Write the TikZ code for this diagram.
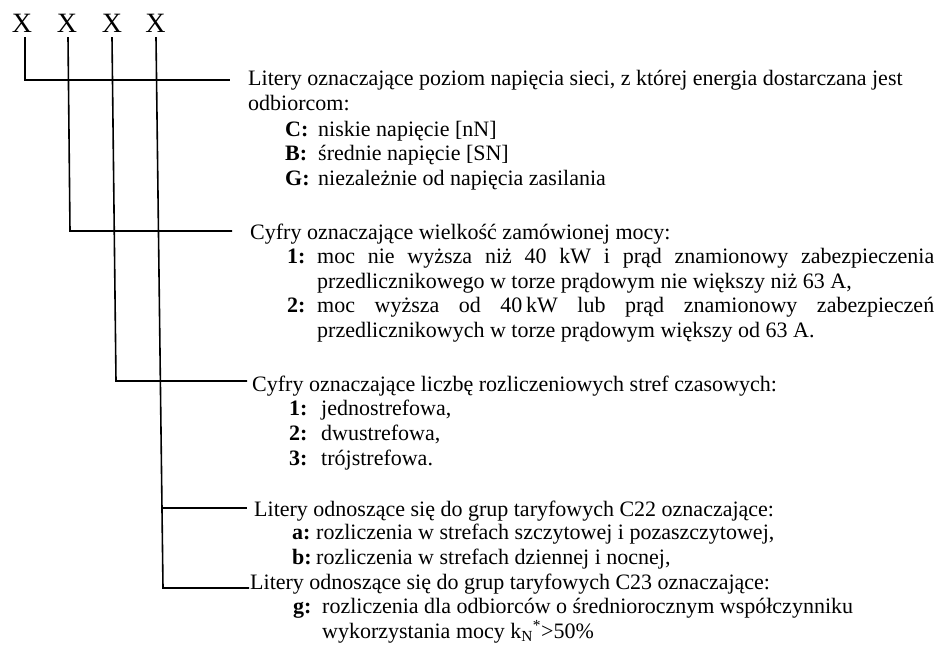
\documentclass[tikz,border=0pt]{standalone}
\usepackage{fontspec}
\setmainfont{Liberation Serif}
\begin{document}
\begin{tikzpicture}[x=1pt,y=-1pt,
  txt/.style={anchor=base west,inner sep=0pt,font=\fontsize{22}{26}\selectfont},
  xl/.style={anchor=base,inner sep=0pt,font=\fontsize{28}{30}\selectfont},
  conn/.style={line width=1.6pt,line join=miter,line cap=butt}]
\useasboundingbox (0,0) rectangle (940,648);
\newcommand{\lab}[2]{\makebox[#1][l]{\textbf{#2}}}
% the code letters
\node[xl] (x1) at (22,32) {X};
\node[xl] (x2) at (67,32) {X};
\node[xl] (x3) at (112,32) {X};
\node[xl] (x4) at (155.5,32) {X};
% bend points and free ends
\coordinate (b1) at (25,80);   \coordinate (e1) at (230,80);
\coordinate (b2) at (70,231);  \coordinate (e2) at (232,231);
\coordinate (b3) at (116,381); \coordinate (e3) at (247,381);
\coordinate (j4) at (162,508); \coordinate (e4) at (247,508);
\coordinate (b4) at (163,588); \coordinate (e5) at (249,588);
% connectors
\draw[conn] (x1.south) ++(3,5) -- (b1) -- (e1);
\draw[conn] (x2.south) ++(1,5) -- (b2) -- (e2);
\draw[conn] (x3.south) ++(0,5) -- (b3) -- (e3);
\draw[conn] (x4.south) ++(0.5,5) -- (b4) -- (e5);
\draw[conn] (j4) -- (e4);
% group 1
\node[txt] (g1a) at (248,85) {Litery oznaczające poziom napięcia sieci, z której energia dostarczana jest};
\node[txt] (g1b) at (248,110) {odbiorcom:};
\node[txt] (g1c) at (285,136) {\lab{33pt}{C:}niskie napięcie [nN]};
\node[txt] (g1d) at (285,160) {\lab{33pt}{B:}średnie napięcie [SN]};
\node[txt] (g1e) at (285,185) {\lab{33pt}{G:}niezależnie od napięcia zasilania};
% group 2
\node[txt] (g2a) at (250,239) {Cyfry oznaczające wielkość zamówionej mocy:};
\node[txt] (g2b) at (287,263) {\lab{30pt}{1:}\makebox[617pt][s]{moc nie wyższa niż 40 kW i prąd znamionowy zabezpieczenia}};
\node[txt] (g2c) at (317,288) {przedlicznikowego w torze prądowym nie większy niż 63 A,};
\node[txt] (g2d) at (287,312) {\lab{30pt}{2:}\makebox[617pt][s]{moc wyższa od \mbox{40\,kW} lub prąd znamionowy zabezpieczeń}};
\node[txt] (g2e) at (317,337) {przedlicznikowych w torze prądowym większy od 63 A.};
% group 3
\node[txt] (g3a) at (252,391) {Cyfry oznaczające liczbę rozliczeniowych stref czasowych:};
\node[txt] (g3b) at (289,415) {\lab{32pt}{1:}jednostrefowa,};
\node[txt] (g3c) at (289,440) {\lab{32pt}{2:}dwustrefowa,};
\node[txt] (g3d) at (289,465) {\lab{32pt}{3:}trójstrefowa.};
% group 4
\node[txt] (g4a) at (254,516) {Litery odnoszące się do grup taryfowych C22 oznaczające:};
\node[txt] (g4b) at (292,539) {\lab{24pt}{a:}rozliczenia w strefach szczytowej i pozaszczytowej,};
\node[txt] (g4c) at (292,564) {\lab{24pt}{b:}rozliczenia w strefach dziennej i nocnej,};
\node[txt] (g4d) at (250,589) {Litery odnoszące się do grup taryfowych C23 oznaczające:};
\node[txt] (g4e) at (293,613) {\lab{29pt}{g:}rozliczenia dla odbiorców o średniorocznym współczynniku};
\node[txt] (g4f) at (322,638) {wykorzystania mocy k\textsubscript{N}\textsuperscript{*}>50\%};
\end{tikzpicture}
\end{document}
